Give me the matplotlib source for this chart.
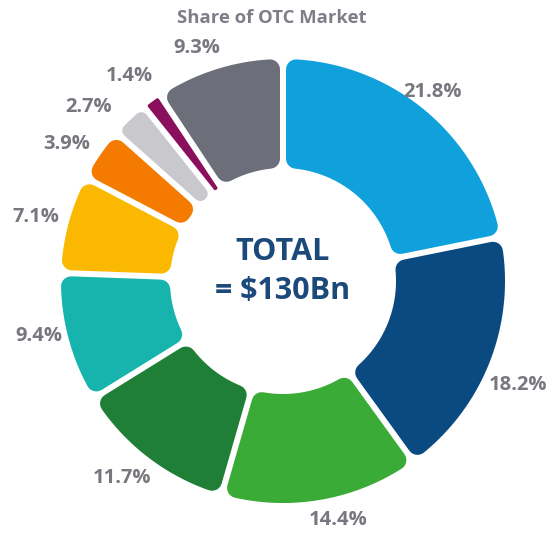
import numpy as np
import matplotlib
matplotlib.use("Agg")
import matplotlib.pyplot as plt
from matplotlib.patches import Polygon

# ---- data ----
title = "Share of OTC Market"
center_lines = ["TOTAL", "= $130Bn"]
labels = ["21.8%", "18.2%", "14.4%", "11.7%", "9.4%", "7.1%", "3.9%", "2.7%", "1.4%", "9.3%"]
shares = [21.8, 18.2, 14.4, 11.7, 9.4, 7.1, 3.9, 2.7, 1.4, 9.3]

# ---- style / layout ----
colors = ["#10a1dd", "#0b4a80", "#3aab36", "#1f7f36", "#17b4ae",
          "#fbb800", "#f47b00", "#c9c9cd", "#8a0f5d", "#6c6e7a"]
label_r_px = [241, 257, 245, 254, 250, 255, 256, 261, 256, 248]
label_dang = [0.8, -2.6, 3.1, -2.1, -2.1, 0.3, 2.4, 4.7, 0.8, 3.5]

plt.rcParams['font.family'] = ['Open Sans', 'DejaVu Sans']

W, H = 552, 533
fig = plt.figure(figsize=(W / 100, H / 100), dpi=100)
ax = fig.add_axes([0, 0, 1, 1])
cx, cy = 283, 281          # centre in pixels (from top-left)
S = 222.0                  # pixels per data unit
R_out, R_in = 222.0, 113.0
gap, rc = 6.0, 10.0
ax.set_xlim(-cx / S, (W - cx) / S)
ax.set_ylim(-(H - cy) / S, cy / S)
ax.set_aspect('equal')
ax.axis('off')

total = sum(shares)
cum = np.concatenate([[0], np.cumsum(shares)])
for i, (v, col) in enumerate(zip(shares, colors)):
    hi = np.deg2rad(90 - 360 * cum[i] / total)
    lo = np.deg2rad(90 - 360 * cum[i + 1] / total)
    span = hi - lo
    r = rc
    for r in np.linspace(rc, 0.5, 60):
        d = gap / 2 + r
        ri = R_in + r
        if np.arcsin(min(d / ri, 1)) < span / 2 - 0.003:
            break
    d = gap / 2 + r
    ri, ro = R_in + r, R_out - r
    ta = np.linspace(lo + np.arcsin(d / ro), hi - np.arcsin(d / ro), 80)
    tb = np.linspace(hi - np.arcsin(d / ri), lo + np.arcsin(d / ri), 80)
    xs = np.concatenate([ro * np.cos(ta), ri * np.cos(tb)]) / S
    ys = np.concatenate([ro * np.sin(ta), ri * np.sin(tb)]) / S
    poly = Polygon(np.column_stack([xs, ys]), closed=True, facecolor=col,
                   edgecolor=col, linewidth=2 * r * 0.72, joinstyle='round')
    ax.add_patch(poly)
    mid = (hi + lo) / 2 + np.deg2rad(label_dang[i])
    lr = label_r_px[i] / S
    ax.text(lr * np.cos(mid), lr * np.sin(mid), labels[i], ha='center', va='center',
            fontsize=14.5, fontweight='bold', color='#77777f')

ax.text((272 - cx) / S, (cy - 18) / S, title, ha='center', va='center',
        fontsize=13.3, fontweight='bold', color='#7d7e88')
ax.text(0, (cy - 252) / S, center_lines[0], ha='center', va='center',
        fontsize=22, fontweight='bold', color='#1b4a7a')
ax.text(0, (cy - 291) / S, center_lines[1], ha='center', va='center',
        fontsize=22, fontweight='bold', color='#1b4a7a')

fig.savefig("out.png", dpi=100)
